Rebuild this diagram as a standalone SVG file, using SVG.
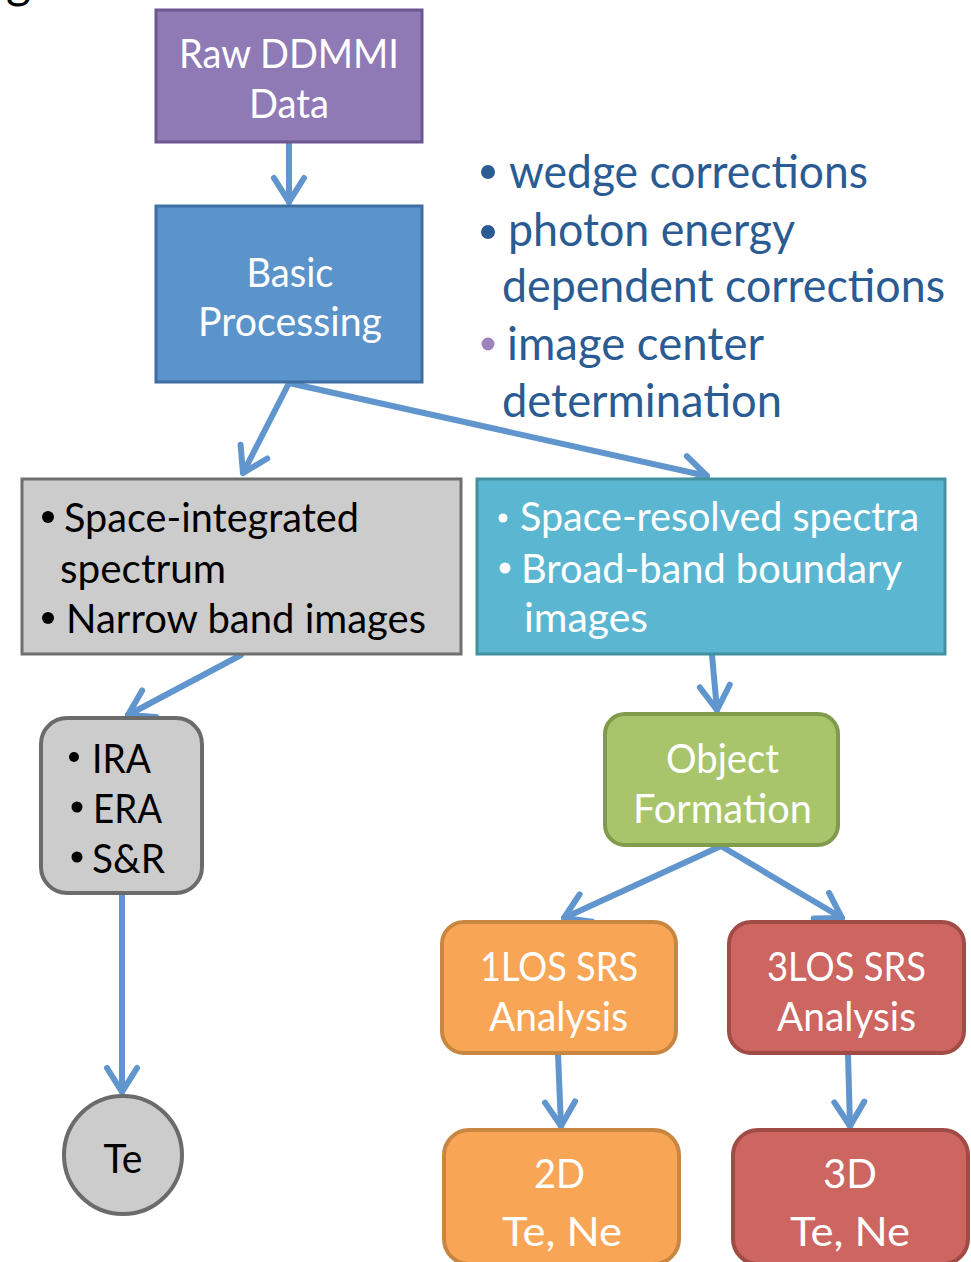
<svg xmlns="http://www.w3.org/2000/svg" width="971" height="1262" viewBox="0 0 971 1262">
<defs>
<style>
text{font-family:Lato,"Open Sans","Liberation Sans",sans-serif;}
.w{fill:#ffffff;font-size:41px;}
.k{fill:#000000;font-size:41px;}
.b{fill:#2a5b92;font-size:46px;}
.c{text-anchor:middle;}
.conn{stroke:#6096cd;stroke-width:6;fill:none;stroke-linecap:round;}
</style>
<marker id="ah" markerUnits="userSpaceOnUse" orient="auto" overflow="visible" markerWidth="40" markerHeight="40" refX="0" refY="0">
<path d="M -24 -15 L 0 0 L -24 15" fill="none" stroke="#6096cd" stroke-width="6" stroke-linecap="round" stroke-linejoin="round"/>
</marker>
</defs>
<rect width="971" height="1262" fill="#ffffff"/>
<text x="6" y="-2" style="font-size:48px;fill:#000">g</text>

<g id="connectors">
<line class="conn" x1="289" y1="143" x2="289" y2="202" marker-end="url(#ah)"/>
<line class="conn" x1="289" y1="383" x2="243" y2="473" marker-end="url(#ah)"/>
<line class="conn" x1="289" y1="383" x2="707" y2="476" marker-end="url(#ah)"/>
<line class="conn" x1="241" y1="655" x2="128" y2="715" marker-end="url(#ah)"/>
<line class="conn" x1="122" y1="894" x2="122" y2="1092" marker-end="url(#ah)"/>
<line class="conn" x1="712" y1="655" x2="717" y2="710" marker-end="url(#ah)"/>
<line class="conn" x1="721" y1="846" x2="564" y2="918" marker-end="url(#ah)"/>
<line class="conn" x1="721" y1="846" x2="842" y2="918" marker-end="url(#ah)"/>
<line class="conn" x1="558" y1="1054" x2="561" y2="1126" marker-end="url(#ah)"/>
<line class="conn" x1="848" y1="1054" x2="850" y2="1126" marker-end="url(#ah)"/>
</g>

<g id="raw">
<rect x="156" y="10" width="266" height="132" fill="#8f7ab5" stroke="#6c578f" stroke-width="3"/>
<text class="w c" x="289" y="68" textLength="220" lengthAdjust="spacingAndGlyphs">Raw DDMMI</text>
<text class="w c" x="289" y="118" textLength="80" lengthAdjust="spacingAndGlyphs">Data</text>
</g>

<g id="basic">
<rect x="156" y="206" width="266" height="176" fill="#5b93cb" stroke="#3f6ea3" stroke-width="3"/>
<text class="w c" x="290" y="287" textLength="87" lengthAdjust="spacingAndGlyphs">Basic</text>
<text class="w c" x="290" y="336" textLength="184" lengthAdjust="spacingAndGlyphs">Processing</text>
</g>

<g id="notes">
<circle cx="488" cy="172" r="7" fill="#2a5b92"/>
<text class="b" x="509" y="188" textLength="359" lengthAdjust="spacingAndGlyphs">wedge corrections</text>
<circle cx="488" cy="232" r="7" fill="#2a5b92"/>
<text class="b" x="508" y="246" textLength="287" lengthAdjust="spacingAndGlyphs">photon energy</text>
<text class="b" x="502" y="302" textLength="443" lengthAdjust="spacingAndGlyphs">dependent corrections</text>
<circle cx="488" cy="344" r="6.5" fill="#9b83be"/>
<text class="b" x="507" y="360" textLength="257" lengthAdjust="spacingAndGlyphs">image center</text>
<text class="b" x="502" y="417" textLength="280" lengthAdjust="spacingAndGlyphs">determination</text>
</g>

<g id="integrated">
<rect x="22" y="479" width="439" height="175" fill="#cccccc" stroke="#6f6f6f" stroke-width="3"/>
<circle cx="48" cy="517" r="6" fill="#000"/>
<text class="k" x="64" y="532" textLength="295" lengthAdjust="spacingAndGlyphs">Space-integrated</text>
<text class="k" x="60" y="583" textLength="166" lengthAdjust="spacingAndGlyphs">spectrum</text>
<circle cx="48" cy="618" r="6" fill="#000"/>
<text class="k" x="66" y="633" textLength="360" lengthAdjust="spacingAndGlyphs">Narrow band images</text>
</g>

<g id="resolved">
<rect x="477" y="479" width="468" height="175" fill="#5bb7d1" stroke="#43909f" stroke-width="3"/>
<circle cx="503" cy="518" r="4.5" fill="#fff"/>
<text class="w" x="520" y="531" textLength="399" lengthAdjust="spacingAndGlyphs">Space-resolved spectra</text>
<circle cx="505" cy="568" r="5.5" fill="#fff"/>
<text class="w" x="521" y="583" textLength="381" lengthAdjust="spacingAndGlyphs">Broad-band boundary</text>
<text class="w" x="524" y="632" textLength="124" lengthAdjust="spacingAndGlyphs">images</text>
</g>

<g id="methods">
<rect x="41" y="718" width="161" height="175" rx="26" fill="#cccccc" stroke="#6b6b6b" stroke-width="4"/>
<circle cx="74" cy="757" r="5" fill="#000"/>
<text class="k" x="92" y="773" textLength="59" lengthAdjust="spacingAndGlyphs">IRA</text>
<circle cx="77" cy="807" r="5.5" fill="#000"/>
<text class="k" x="93" y="823" textLength="69" lengthAdjust="spacingAndGlyphs">ERA</text>
<circle cx="77" cy="857" r="5.5" fill="#000"/>
<text class="k" x="92" y="873" textLength="73" lengthAdjust="spacingAndGlyphs">S&amp;R</text>
</g>

<g id="te">
<circle cx="123" cy="1155" r="59" fill="#cccccc" stroke="#6b6b6b" stroke-width="4"/>
<text class="k c" x="123" y="1173" textLength="39" lengthAdjust="spacingAndGlyphs">Te</text>
</g>

<g id="object">
<rect x="605" y="714" width="233" height="131" rx="20" fill="#a8c56b" stroke="#7f9b4b" stroke-width="4"/>
<text class="w c" x="722.5" y="773" textLength="113" lengthAdjust="spacingAndGlyphs">Object</text>
<text class="w c" x="722.5" y="823" textLength="179" lengthAdjust="spacingAndGlyphs">Formation</text>
</g>

<g id="los1">
<rect x="442" y="922" width="234" height="131" rx="22" fill="#f8a656" stroke="#c98641" stroke-width="4"/>
<text class="w c" x="559" y="981" textLength="158" lengthAdjust="spacingAndGlyphs">1LOS SRS</text>
<text class="w c" x="558.5" y="1031" textLength="139" lengthAdjust="spacingAndGlyphs">Analysis</text>
</g>

<g id="los3">
<rect x="729" y="922" width="235" height="131" rx="22" fill="#cd6560" stroke="#a14b47" stroke-width="4"/>
<text class="w c" x="846.5" y="981" textLength="159" lengthAdjust="spacingAndGlyphs">3LOS SRS</text>
<text class="w c" x="846.5" y="1031" textLength="139" lengthAdjust="spacingAndGlyphs">Analysis</text>
</g>

<g id="res2d">
<rect x="444" y="1130" width="235" height="134" rx="25" fill="#f8a656" stroke="#c98641" stroke-width="4"/>
<text class="w c" x="559.5" y="1188" textLength="51" lengthAdjust="spacingAndGlyphs">2D</text>
<text class="w c" x="562" y="1246" textLength="120" lengthAdjust="spacingAndGlyphs">Te, Ne</text>
</g>

<g id="res3d">
<rect x="733" y="1130" width="235" height="134" rx="25" fill="#cd6560" stroke="#a14b47" stroke-width="4"/>
<text class="w c" x="850" y="1188" textLength="54" lengthAdjust="spacingAndGlyphs">3D</text>
<text class="w c" x="850" y="1246" textLength="120" lengthAdjust="spacingAndGlyphs">Te, Ne</text>
</g>
</svg>
